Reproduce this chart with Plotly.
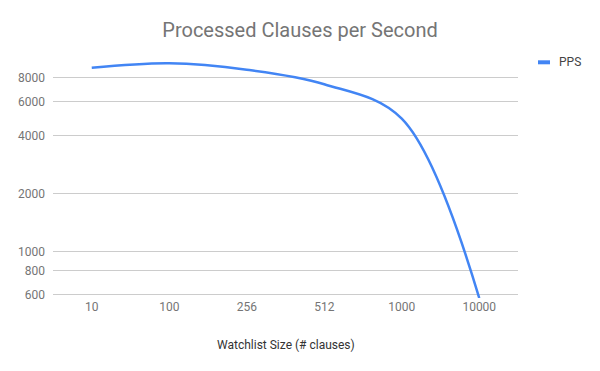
import plotly.graph_objects as go

categories = ["10", "100", "256", "512", "1000", "10000"]
pps = [9000, 9500, 8800, 7400, 4900, 575]
y_ticks = [600, 800, 1000, 2000, 4000, 6000, 8000]
y_tick_labels = ["600", "800", "1000", "2000", "4000", "6000", "8000"]

# page body has an 8px margin; figure is sized to fit inside it
OFF = 8
W, H = 600 - 2 * OFF, 371 - 2 * OFF
PW, PH = 465, 239
L, T = 53 - OFF, 59 - OFF
R, B = W - L - PW, H - T - PH

def px_x(x):
    return (x - OFF - L) / PW

def px_y(y):
    return 1 - (y - OFF - T) / PH

BLUE = "#4285F4"
FONT = "Roboto, Arial, sans-serif"

fig = go.Figure()
fig.add_trace(go.Scatter(
    x=categories, y=pps, mode="lines", name="PPS",
    line=dict(color=BLUE, width=2.5, shape="spline", smoothing=1.0),
    showlegend=False, hoverinfo="x+y",
))

fig.update_layout(
    width=W, height=H,
    margin=dict(l=L, r=R, t=T, b=B, autoexpand=False),
    paper_bgcolor="white", plot_bgcolor="white",
    font=dict(family=FONT, size=12, color="#757575"),
    title=dict(text="Processed Clauses per Second", x=0.5, xref="container",
               xanchor="center", y=1 - (30 - OFF) / H, yanchor="middle",
               font=dict(family=FONT, size=20, color="#757575")),
    xaxis=dict(type="category", range=[-0.5, 5.5], showgrid=False,
               showline=False, zeroline=False, ticks="",
               tickfont=dict(family=FONT, size=12, color="#757575")),
    yaxis=dict(type="log", range=[2.76, 4.0], tickvals=y_ticks,
               ticktext=y_tick_labels, showgrid=True, gridcolor="#cccccc",
               gridwidth=1, zeroline=False, showline=False, ticks="",
               ticklabelstandoff=7,
               tickfont=dict(family=FONT, size=12, color="#757575")),
    shapes=[dict(type="line", xref="paper", yref="paper",
                 x0=px_x(538), x1=px_x(550), y0=px_y(62.3), y1=px_y(62.3),
                 line=dict(color=BLUE, width=4))],
    annotations=[
        dict(text="PPS", xref="paper", yref="paper", x=px_x(557), y=px_y(62.3),
             xanchor="left", yanchor="middle", showarrow=False,
             font=dict(family=FONT, size=12, color="#444444")),
        dict(text="Watchlist Size (# clauses)", xref="paper", yref="paper",
             x=px_x(286), y=px_y(345), xanchor="center", yanchor="middle",
             showarrow=False, font=dict(family=FONT, size=12, color="#333333")),
    ],
)

fig.write_html("out.html")
